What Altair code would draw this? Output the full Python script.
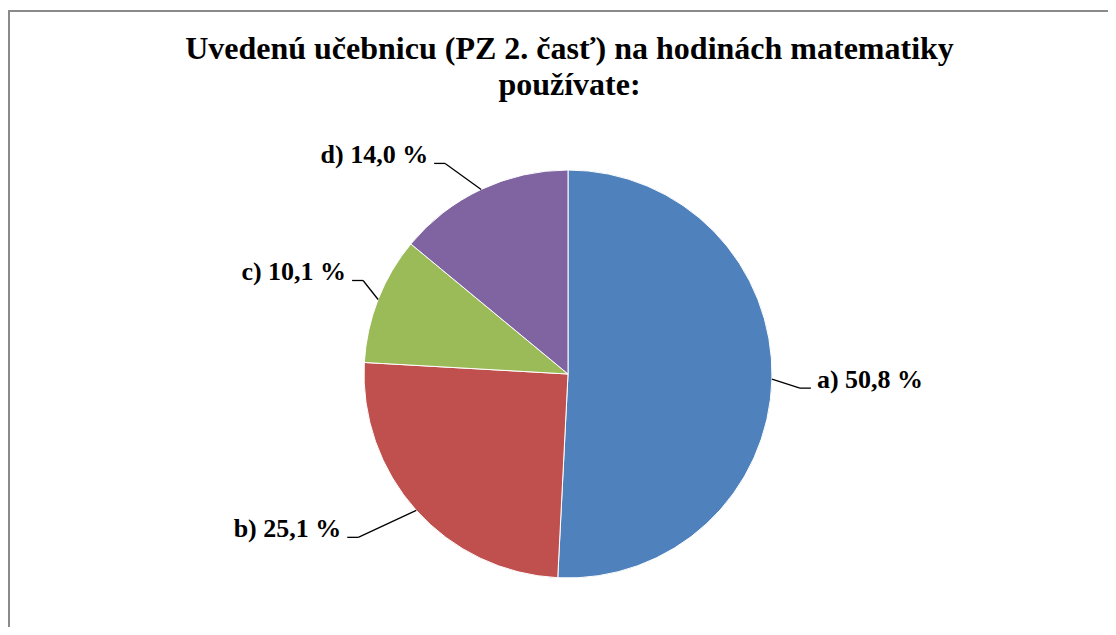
import altair as alt
import pandas as pd

# ---- data ----
CATEGORIES = ["a)", "b)", "c)", "d)"]
VALUES = [50.8, 25.1, 10.1, 14.0]
LABELS = ["a) 50,8 %", "b) 25,1 %", "c) 10,1 %", "d) 14,0 %"]
COLORS = ["#4F81BD", "#C0504D", "#9BBB59", "#8064A2"]
TITLE_LINES = ["Uvedenú učebnicu (PZ 2. časť) na hodinách matematiky", "používate:"]

# ---- layout (styling, not data) ----
W, H = 1100, 619
CX, CY, R = 560, 366, 204
NUDGE_X = [28, -58, -15, -36]   # manual label drag (leader elbow offset)
NUDGE_Y = [9, 27, -19, -26]
SEG, GAP = 11, 6
FONT = "Liberation Serif"

df = pd.DataFrame({
    "cat": CATEGORIES,
    "value": VALUES,
    "label": LABELS,
    "idx": list(range(len(CATEGORIES))),
    "nx": NUDGE_X,
    "ny": NUDGE_Y,
})

base = alt.Chart(df)

pie = base.mark_arc(outerRadius=R, stroke="white", strokeWidth=1).encode(
    theta=alt.Theta("value:Q", stack=True),
    order=alt.Order("idx:Q", sort="ascending"),
    color=alt.Color("cat:N", scale=alt.Scale(domain=CATEGORIES, range=COLORS), legend=None),
    x=alt.value(CX),
    y=alt.value(CY),
)

lab = base.transform_joinaggregate(total="sum(value)").transform_window(
    cum="sum(value)", sort=[alt.SortField("idx")], frame=[None, 0]
).transform_calculate(
    mid="(datum.cum - datum.value/2)/datum.total*2*PI",
).transform_calculate(
    ex=f"{CX} + {R}*sin(datum.mid)",
    ey=f"{CY} - {R}*cos(datum.mid)",
    side="sin(datum.mid) >= 0 ? 1 : -1",
).transform_calculate(
    bx="datum.ex + datum.nx",
    by="datum.ey + datum.ny",
).transform_calculate(
    hx=f"datum.bx + datum.side*{SEG}",
    tx=f"datum.bx + datum.side*{SEG + GAP}",
)

diag = lab.mark_rule(color="black", strokeWidth=1.3).encode(
    x=alt.X("ex:Q", scale=None), y=alt.Y("ey:Q", scale=None),
    x2="bx:Q", y2="by:Q",
)
horiz = lab.mark_rule(color="black", strokeWidth=1.3).encode(
    x=alt.X("bx:Q", scale=None), y=alt.Y("by:Q", scale=None),
    x2="hx:Q", y2="by:Q",
)
txt_r = lab.transform_filter("datum.side > 0").mark_text(
    font=FONT, fontSize=26, fontWeight="bold", align="left", baseline="alphabetic", color="black"
).encode(x=alt.X("tx:Q", scale=None), y=alt.Y("by:Q", scale=None), text="label:N")
txt_l = lab.transform_filter("datum.side < 0").mark_text(
    font=FONT, fontSize=26, fontWeight="bold", align="right", baseline="alphabetic", color="black"
).encode(x=alt.X("tx:Q", scale=None), y=alt.Y("by:Q", scale=None), text="label:N")

one = alt.Chart(alt.Data(values=[{"k": 0}]))
title = one.mark_text(
    text=TITLE_LINES, font=FONT, fontSize=32, fontWeight="bold", align="center",
    baseline="alphabetic", lineHeight=36, color="black"
).encode(x=alt.value(561.5), y=alt.value(51))

frame_top = one.mark_rule(color="#8a8a8a", strokeWidth=2).encode(
    x=alt.value(0), x2=alt.value(W), y=alt.value(3), y2=alt.value(3)
)
frame_left = one.mark_rule(color="#8a8a8a", strokeWidth=2).encode(
    x=alt.value(1), x2=alt.value(1), y=alt.value(2), y2=alt.value(H)
)

chart = alt.layer(frame_top, frame_left, pie, diag, horiz, txt_r, txt_l, title).properties(
    width=W, height=H, autosize=alt.AutoSizeParams(type="none"), padding=0,
    background="white",
).configure_view(stroke=None)

chart.save("out.html", embed_options={"renderer": "svg", "actions": False})
